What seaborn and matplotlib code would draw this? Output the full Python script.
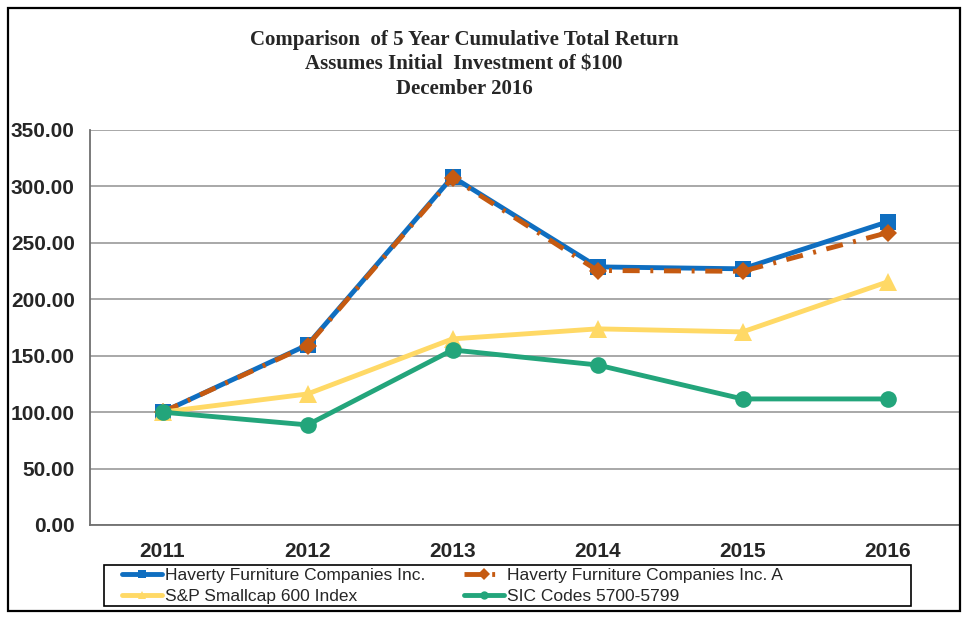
import numpy as np
import pandas as pd
import matplotlib
matplotlib.use("Agg")
import matplotlib.pyplot as plt
import seaborn as sns
from matplotlib.patches import Rectangle
from matplotlib.ticker import FormatStrFormatter

# values
years = [2011, 2012, 2013, 2014, 2015, 2016]
haverty = [100.00, 159.6, 308.5, 228.7, 227.0, 268.6]
haverty_a = [100.00, 159.0, 307.6, 225.5, 224.8, 259.0]
sp600 = [100.00, 116.1, 164.9, 173.8, 171.1, 215.4]
sic = [100.00, 88.7, 155.1, 141.8, 111.7, 111.7]

series_names = [
    "Haverty Furniture Companies Inc.",
    "Haverty Furniture Companies Inc. A",
    "S&P Smallcap 600 Index",
    "SIC Codes 5700-5799",
]
colors = ["#0F6EC0", "#C55A11", "#FFD966", "#23A57B"]
markers = ["s", "D", "^", "o"]
msizes = [12, 9, 13, 12]

title_lines = [
    "Comparison  of 5 Year Cumulative Total Return",
    "Assumes Initial  Investment of $100",
    "December 2016",
]

df = pd.DataFrame({"year": years, series_names[0]: haverty, series_names[1]: haverty_a,
                   series_names[2]: sp600, series_names[3]: sic})

sns.set_style("white")
plt.rcParams["font.family"] = ["Liberation Sans", "DejaVu Sans"]

fig = plt.figure(figsize=(9.7, 6.21), dpi=100)
ax = fig.add_axes([90 / 970, 1 - 525 / 621, 870 / 970, 395 / 621])

for name, col, mk, ms in zip(series_names, colors, markers, msizes):
    ls = (0, (3.5, 2.2, 0.6, 2.2)) if name.endswith(" A") else "-"
    sns.lineplot(data=df, x="year", y=name, ax=ax, color=col, marker=mk, markersize=ms,
                 markeredgewidth=0, linewidth=3.5, linestyle=ls, label=name,
                 errorbar=None, legend=False)

ax.set_xlim(2010.5, 2016.5)
ax.set_ylim(0, 350)
ax.set_yticks(np.arange(0, 351, 50))
ax.yaxis.set_major_formatter(FormatStrFormatter("%.2f"))
ax.set_xticks(years)
ax.set_xlabel("")
ax.set_ylabel("")
ax.grid(axis="y", color="#999999", linewidth=1.2)
ax.set_axisbelow(True)
for s in ["top", "right"]:
    ax.spines[s].set_visible(False)
for s in ["left", "bottom"]:
    ax.spines[s].set_color("#707070")
    ax.spines[s].set_linewidth(1.3)
ax.tick_params(axis="y", direction="out", length=6, color="#707070", width=1,
               labelsize=15, pad=5)
ax.tick_params(axis="x", direction="in", length=4, color="#707070", width=1,
               labelsize=15, pad=12)
for lab in ax.get_xticklabels() + ax.get_yticklabels():
    lab.set_fontweight("bold")

fig.text(464 / 970, 1 - 30 / 621, "\n".join(title_lines), ha="center", va="top",
         fontsize=15, fontweight="bold", family=["Liberation Serif", "DejaVu Serif"],
         linespacing=1.3)

handles, labels = ax.get_legend_handles_labels()
order = [0, 2, 1, 3]
leg = fig.legend([handles[i] for i in order], [labels[i] for i in order],
                 loc="center left", bbox_to_anchor=(122 / 970, 1 - 586 / 621),
                 ncol=2, frameon=False, borderaxespad=0, borderpad=0,
                 handlelength=2.3, handletextpad=0.2, columnspacing=2.2,
                 labelspacing=0.3,
                 prop={"family": ["Liberation Sans Narrow", "Liberation Sans"], "size": 12.5})
for h in leg.legend_handles:
    h.set_markersize(6)
    h.set_linewidth(3.5)

# legend box and outer frame
fig.patches.append(Rectangle((104 / 970, 1 - 606 / 621), 807 / 970, 41 / 621,
                             transform=fig.transFigure, fill=False,
                             edgecolor="black", linewidth=1.2))
fig.patches.append(Rectangle((8 / 970, 1 - 611 / 621), 952 / 970, 603 / 621,
                             transform=fig.transFigure, fill=False,
                             edgecolor="black", linewidth=1.6))

fig.savefig("out.png", dpi=100, facecolor="white")
